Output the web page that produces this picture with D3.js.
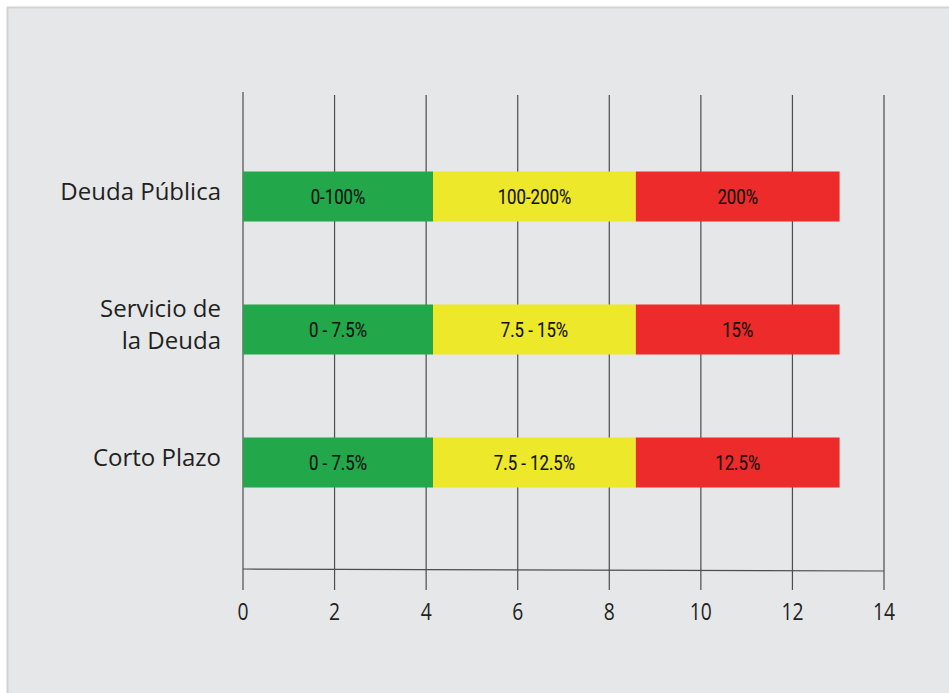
<!DOCTYPE html>
<html>
<head>
<meta charset="utf-8">
<script src="https://cdn.jsdelivr.net/npm/d3@7"></script>
<style>
  body { margin: 0; background: #ffffff; }
  svg { display: block; }
  .cat-label { font-family: "Open Sans", "Noto Sans", sans-serif; font-size: 24px; fill: #231f20; }
  .seg-label { font-family: "Liberation Sans Narrow", "Roboto", sans-serif; font-size: 21px; fill: #111; stroke: #111; stroke-width: 0.15px; }
  .tick-label { font-family: "Open Sans", "Noto Sans", sans-serif; font-size: 23px; fill: #231f20; }
</style>
</head>
<body>
<div id="chart"></div>
<script>
// categories (top to bottom)
const categories = ["Deuda Pública", "Servicio de la Deuda", "Corto Plazo"];
const categoryLines = [["Deuda Pública"], ["Servicio de", "la Deuda"], ["Corto Plazo"]];

// segment widths (green, yellow, red)
const greenValues = [4.15, 4.15, 4.15];
const yellowValues = [4.43, 4.43, 4.43];
const redValues = [4.45, 4.45, 4.45];

// segment labels
const greenLabels = ["0-100%", "0 - 7.5%", "0 - 7.5%"];
const yellowLabels = ["100-200%", "7.5 - 15%", "7.5 - 12.5%"];
const redLabels = ["200%", "15%", "12.5%"];

const xTicks = [0, 2, 4, 6, 8, 10, 12, 14];
const segColors = ["#22a74b", "#ede82a", "#ee2b2b"];

const W = 949, H = 693;
const svg = d3.select("#chart").append("svg")
    .attr("width", W)
    .attr("height", H);

// panel
svg.append("rect")
    .attr("x", 7.5).attr("y", 7.5)
    .attr("width", W).attr("height", H)
    .attr("fill", "#e6e7e9")
    .attr("stroke", "#d2d3d5")
    .attr("stroke-width", 2);

const x = d3.scaleLinear().domain([0, 14]).range([243, 884]);
const y = d3.scaleBand().domain(categories)
    .range([130, 529])
    .paddingInner(0.624)
    .paddingOuter(0.312);

const gridTop = 95, axisY = 570, tickBottom = 590;

// vertical grid / tick lines
svg.append("g").selectAll("line")
    .data(xTicks)
    .join("line")
    .attr("x1", d => x(d)).attr("x2", d => x(d))
    .attr("y1", (d, i) => i === 0 ? gridTop - 3 : gridTop)
    .attr("y2", tickBottom)
    .attr("stroke", "#4d4d4f")
    .attr("stroke-width", 1.2);

// x axis line
svg.append("line")
    .attr("x1", x(0)).attr("x2", x(14))
    .attr("y1", axisY - 1).attr("y2", axisY + 1)
    .attr("stroke", "#4d4d4f")
    .attr("stroke-width", 1.2);

// tick labels (slightly condensed)
svg.append("g").selectAll("text")
    .data(xTicks)
    .join("text")
    .attr("class", "tick-label")
    .attr("transform", d => `translate(${x(d)},620) scale(0.84,1)`)
    .attr("text-anchor", "middle")
    .text(d => d);

// build stacked rows
const rows = categories.map((c, i) => {
    const vals = [greenValues[i], yellowValues[i], redValues[i]];
    const labs = [greenLabels[i], yellowLabels[i], redLabels[i]];
    let acc = 0;
    return vals.map((v, j) => {
        const seg = { cat: c, x0: acc, x1: acc + v, label: labs[j], color: segColors[j] };
        acc += v;
        return seg;
    });
}).flat();

const bars = svg.append("g");
bars.selectAll("rect")
    .data(rows)
    .join("rect")
    .attr("x", d => x(d.x0))
    .attr("y", d => y(d.cat))
    .attr("width", d => x(d.x1) - x(d.x0))
    .attr("height", y.bandwidth())
    .attr("fill", d => d.color);

bars.selectAll("text")
    .data(rows)
    .join("text")
    .attr("class", "seg-label")
    .attr("transform", d => `translate(${(x(d.x0) + x(d.x1)) / 2},${y(d.cat) + y.bandwidth() / 2 + 7.5}) scale(0.8,1)`)
    .attr("text-anchor", "middle")
    .text(d => d.label);

// category labels
const catG = svg.append("g");
categories.forEach((c, i) => {
    const lines = categoryLines[i];
    const cy = y(c) + y.bandwidth() / 2;
    const lh = 32;
    lines.forEach((ln, k) => {
        catG.append("text")
            .attr("class", "cat-label")
            .attr("x", 221)
            .attr("y", cy + 3 + (k - (lines.length - 1) / 2) * lh)
            .attr("text-anchor", "end")
            .text(ln);
    });
});
</script>
</body>
</html>
